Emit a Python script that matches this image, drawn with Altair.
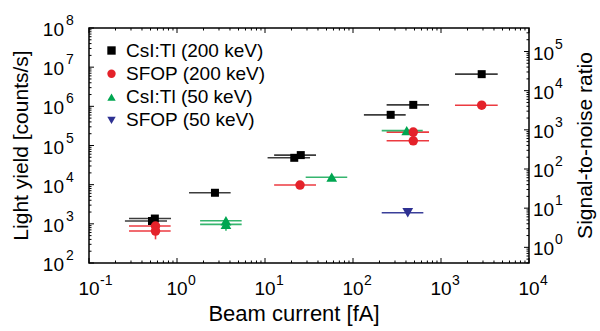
import altair as alt
import pandas as pd

FONT = "Liberation Sans"
W, H = 440, 235

series_names = ["CsI:Tl (200 keV)", "SFOP (200 keV)", "CsI:Tl (50 keV)", "SFOP (50 keV)"]
series_colors = ["#000000", "#e4222a", "#00a651", "#2e3192"]
bar_colors = ["#3c3c3c", "#ec3a40", "#35b56e", "#3a3f99"]
series_shapes = ["square", "circle", "triangle-up", "triangle-down"]

# CsI:Tl, 200 keV beam
csi200_current = [0.52, 0.56, 2.7, 21.5, 25.5, 268, 484, 2900]
csi200_yield = [1180, 1365, 6210, 48500, 56900, 607000, 1090000, 6630000]
csi200_lo = [0.256, 0.285, 1.37, 10.7, 12.7, 133, 241, 1442]
csi200_hi = [0.77, 0.855, 4.07, 32.5, 38.0, 397, 731, 4410]

# CsI:Tl, 50 keV beam
csi50_current = [3.6, 3.6, 57.3, 408]
csi50_yield = [1200, 971, 15500, 240000]
csi50_lo = [1.83, 1.83, 29, 212]
csi50_hi = [5.43, 5.43, 86, 620]

# SFOP, 200 keV beam
sfop200_current = [0.57, 0.57, 25, 484, 484, 2900]
sfop200_yield = [879, 655, 9770, 220000, 132000, 1070000]
sfop200_lo = [0.285, 0.285, 12.7, 241, 241, 1442]
sfop200_hi = [0.847, 0.847, 38, 731, 731, 4410]

# SFOP, 50 keV beam
sfop50_current = [419]
sfop50_yield = [1920]
sfop50_lo = [212]
sfop50_hi = [630]

# vertical error bars
vbar_series = ["SFOP (200 keV)", "CsI:Tl (50 keV)"]
vbar_current = [0.57, 3.6]
vbar_lo = [402, 667]
vbar_hi = [900, 1250]

# axis decades
x_major = [0.1, 1, 10, 100, 1000, 10000]
x_exp = ["-1", "0", "1", "2", "3", "4"]
yl_major = [1e2, 1e3, 1e4, 1e5, 1e6, 1e7, 1e8]
yl_exp = ["2", "3", "4", "5", "6", "7", "8"]
yr_major = [1, 10, 100, 1e3, 1e4, 1e5]
yr_exp = ["0", "1", "2", "3", "4", "5"]
minor_mult = [2, 3, 4, 5, 6, 7, 8, 9]

x_minor = [m * 10.0 ** k for k in range(-1, 4) for m in minor_mult]
yl_minor = [m * 10.0 ** k for k in range(2, 8) for m in minor_mult]
yr_lo, yr_hi = 10 ** -0.4, 10 ** 5.6
yr_minor = [m * 10.0 ** k for k in range(-1, 6) for m in minor_mult
            if yr_lo < m * 10.0 ** k < yr_hi]

# table of points, in drawing order
rows = []
for name, xs, ys, los, his in [
    (series_names[0], csi200_current, csi200_yield, csi200_lo, csi200_hi),
    (series_names[2], csi50_current, csi50_yield, csi50_lo, csi50_hi),
    (series_names[1], sfop200_current, sfop200_yield, sfop200_lo, sfop200_hi),
    (series_names[3], sfop50_current, sfop50_yield, sfop50_lo, sfop50_hi),
]:
    for x, y, lo, hi in zip(xs, ys, los, his):
        rows.append({"series": name, "current": x, "yield": y, "lo": lo, "hi": hi})
points = pd.DataFrame(rows)
points["order"] = range(len(points))
vbars = pd.DataFrame({"series": vbar_series, "current": vbar_current,
                      "lo": vbar_lo, "hi": vbar_hi})

xscale = alt.Scale(type="log", domain=[0.1, 10000])
yscale = alt.Scale(type="log", domain=[1e2, 1e8])
rscale = alt.Scale(type="log", domain=[yr_lo, yr_hi])

X = lambda f: alt.X(f, type="quantitative", scale=xscale, axis=None)
Y = lambda f: alt.Y(f, type="quantitative", scale=yscale, axis=None)
R = lambda f: alt.Y(f, type="quantitative", scale=rscale, axis=None)

# error bars, one layer per series so each keeps its own colour
bar_layers = []
for name, col in zip(series_names, bar_colors):
    bar_layers.append(
        alt.Chart(points[points["series"] == name]).mark_rule(strokeWidth=1.6, color=col).encode(
            x=X("lo"), x2="hi", y=Y("yield")))
    sub = vbars[vbars["series"] == name]
    if len(sub):
        bar_layers.append(
            alt.Chart(sub).mark_rule(strokeWidth=1.6, color=col).encode(
                x=X("current"), y=Y("lo"), y2="hi"))

legend = alt.Legend(title=None, orient="top-left", offset=13,
                    labelFont=FONT, labelFontSize=19, labelColor="black",
                    labelOffset=5, rowPadding=3.3, padding=0, symbolSize=70)

# marker area per shape: squares a bit smaller, triangles a bit larger
marker_size = {
    "condition": [
        {"test": f"datum.series == '{series_names[0]}'", "value": 64},
        {"test": f"datum.series == '{series_names[2]}' || datum.series == '{series_names[3]}'",
         "value": 115},
    ],
    "value": 90,
}

point_layer = alt.Chart(points).mark_point(filled=True, opacity=1).encode(
    x=X("current"), y=Y("yield"),
    color=alt.Color("series:N", scale=alt.Scale(domain=series_names, range=series_colors), legend=legend),
    shape=alt.Shape("series:N", scale=alt.Scale(domain=series_names, range=series_shapes), legend=legend),
    size=marker_size,
    order="order:Q",
)


def tick_rules(vals, length):
    base = alt.Chart(pd.DataFrame({"v": vals})).mark_rule(color="black", strokeWidth=1)
    return [
        base.encode(x=X("v"), y=alt.value(H), y2=alt.value(H - length)),
        base.encode(x=X("v"), y=alt.value(0), y2=alt.value(length)),
    ]


def ytick_rules(vals, length, scale_fn, right):
    base = alt.Chart(pd.DataFrame({"v": vals})).mark_rule(color="black", strokeWidth=1)
    if right:
        return [base.encode(y=scale_fn("v"), x=alt.value(W), x2=alt.value(W - length))]
    return [base.encode(y=scale_fn("v"), x=alt.value(0), x2=alt.value(length))]


ticks = (tick_rules(x_major, 5) + tick_rules(x_minor, 2.5)
         + ytick_rules(yl_major, 5, Y, False) + ytick_rules(yl_minor, 2.5, Y, False)
         + ytick_rules(yr_major, 5, R, True) + ytick_rules(yr_minor, 2.5, R, True))

BASE_SIZE, EXP_SIZE = 19, 14

# power-of-ten tick labels
xl = alt.Chart(pd.DataFrame({"v": x_major, "e": x_exp}))
x_labels = [
    xl.mark_text(font=FONT, fontSize=BASE_SIZE, align="center", baseline="alphabetic").encode(
        x=X("v"), y=alt.value(H + 32), text=alt.value("10")),
    xl.mark_text(font=FONT, fontSize=EXP_SIZE, align="left", baseline="alphabetic", dx=11).encode(
        x=X("v"), y=alt.value(H + 22), text="e:N"),
]
ll = alt.Chart(pd.DataFrame({"v": yl_major, "e": yl_exp}))
left_labels = [
    ll.mark_text(font=FONT, fontSize=BASE_SIZE, align="right", baseline="middle", dy=2).encode(
        y=Y("v"), x=alt.value(-25), text=alt.value("10")),
    ll.mark_text(font=FONT, fontSize=EXP_SIZE, align="left", baseline="middle", dy=-7).encode(
        y=Y("v"), x=alt.value(-23), text="e:N"),
]
rl = alt.Chart(pd.DataFrame({"v": yr_major, "e": yr_exp}))
right_labels = [
    rl.mark_text(font=FONT, fontSize=BASE_SIZE, align="left", baseline="middle", dy=2).encode(
        y=R("v"), x=alt.value(W + 4), text=alt.value("10")),
    rl.mark_text(font=FONT, fontSize=EXP_SIZE, align="left", baseline="middle", dy=-7).encode(
        y=R("v"), x=alt.value(W + 26), text="e:N"),
]

# axis titles
def title_text(label, x, y, angle, size):
    return alt.Chart(pd.DataFrame({"t": [label]})).mark_text(
        font=FONT, fontSize=size, align="center", baseline="middle", angle=angle
    ).encode(x=alt.value(x), y=alt.value(y), text="t:N")


titles = [
    title_text("Beam current [fA]", 205, H + 51, 0, 22),
    title_text("Light yield [counts/s]", -67, H / 2, 270, 21),
    title_text("Signal-to-noise ratio", 497, H / 2, 270, 21),
]

chart = alt.layer(
    *ticks, *bar_layers, point_layer,
    *x_labels, *left_labels, *right_labels, *titles,
).resolve_scale(y="independent").properties(
    width=W, height=H,
    autosize=alt.AutoSizeParams(type="none"),
    padding={"left": 89, "top": 28, "right": 71, "bottom": 68},
).configure(font=FONT).configure_view(stroke="black", strokeWidth=1.5)

chart.save("out.html", embed_options={"renderer": "svg", "actions": False})
